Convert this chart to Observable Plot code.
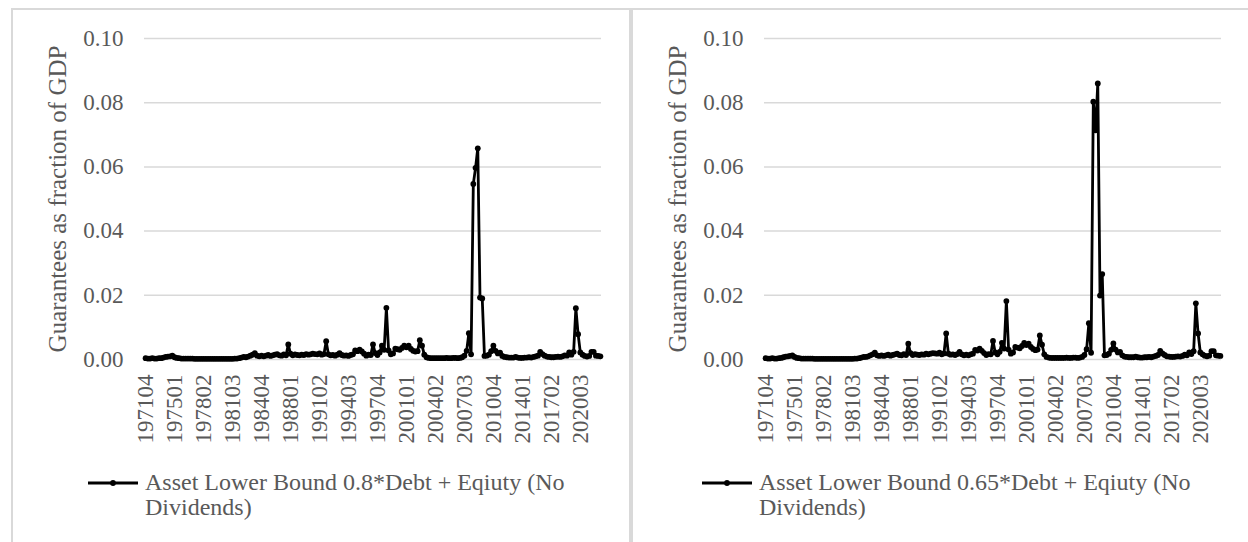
<!DOCTYPE html>
<html><head><meta charset="utf-8">
<script src="https://cdn.jsdelivr.net/npm/d3@7"></script>
<script src="https://cdn.jsdelivr.net/npm/@observablehq/plot@0.6"></script>
<style>
html,body{margin:0;padding:0;background:#fff;}
#wrap{position:relative;width:1248px;height:542px;overflow:hidden;font-family:"Liberation Serif","Times New Roman",serif;color:#595959;background:#fff;}
.panel{position:absolute;top:8px;width:620px;height:600px;box-sizing:border-box;border:2px solid #d9d9d9;background:#fff;}
.panel > svg{position:absolute;left:0;top:0;}
.leg-sym{position:absolute;}
.leg-text{position:absolute;font-size:24px;line-height:24.3px;white-space:nowrap;color:#595959;}
</style></head>
<body>
<div id="wrap">
  <div class="panel" id="pA" style="left:11px"></div>
  <div class="panel" id="pB" style="left:631px"></div>
</div>
<script>
// Quarterly categories 1971Q4 .. 2022Q4
const startYear = 1971, startQuarter = 4, nQuarters = 205;
const quarters = d3.range(nQuarters).map(i => {
  const k = i + startQuarter - 1;
  return `${startYear + Math.floor(k / 4)}0${(k % 4) + 1}`;
});

const xTickLabels = ["197104","197501","197802","198103","198404","198801","199102","199403",
  "199704","200101","200402","200703","201004","201401","201702","202003"];
const yTicks = [0, 0.02, 0.04, 0.06, 0.08, 0.10];
const yTitle = "Guarantees as fraction of GDP";

// Asset Lower Bound 0.8*Debt + Eqiuty (No Dividends)
const seriesA = [
  0.0004,
  0.0003,0.0003,0.0004,0.0003, // 1972
  0.0003,0.0004,0.0004,0.0006, // 1973
  0.0008,0.0009,0.0010,0.0012, // 1974
  0.0007,0.0005,0.0004,0.0003, // 1975
  0.0003,0.0003,0.0003,0.0003, // 1976
  0.0003,0.0002,0.0002,0.0002, // 1977
  0.0002,0.0002,0.0002,0.0002, // 1978
  0.0002,0.0002,0.0002,0.0002, // 1979
  0.0002,0.0002,0.0002,0.0002, // 1980
  0.0002,0.0002,0.0002,0.0003, // 1981
  0.0003,0.0004,0.0006,0.0008, // 1982
  0.0007,0.0009,0.0012,0.0015, // 1983
  0.0020,0.0012,0.0010,0.0012, // 1984
  0.0010,0.0012,0.0014,0.0011, // 1985
  0.0013,0.0015,0.0017,0.0013, // 1986
  0.0012,0.0016,0.0013,0.0047, // 1987
  0.0018,0.0013,0.0016,0.0014, // 1988
  0.0013,0.0015,0.0014,0.0017, // 1989
  0.0015,0.0016,0.0018,0.0017, // 1990
  0.0016,0.0019,0.0015,0.0017, // 1991
  0.0057,0.0016,0.0013,0.0014, // 1992
  0.0012,0.0015,0.0020,0.0014, // 1993
  0.0012,0.0013,0.0011,0.0014, // 1994
  0.0016,0.0028,0.0026,0.0031, // 1995
  0.0025,0.0018,0.0012,0.0015, // 1996
  0.0014,0.0047,0.0020,0.0014, // 1997
  0.0022,0.0043,0.0030,0.0161, // 1998
  0.0028,0.0016,0.0019,0.0034, // 1999
  0.0032,0.0030,0.0036,0.0043, // 2000
  0.0038,0.0043,0.0033,0.0027, // 2001
  0.0025,0.0026,0.0060,0.0043, // 2002
  0.0015,0.0007,0.0005,0.0004, // 2003
  0.0004,0.0004,0.0004,0.0004, // 2004
  0.0004,0.0004,0.0005,0.0004, // 2005
  0.0004,0.0005,0.0005,0.0004, // 2006
  0.0005,0.0007,0.0012,0.0027, // 2007
  0.0082,0.0016,0.0547,0.0597, // 2008
  0.0658,0.0193,0.0190,0.0011, // 2009
  0.0012,0.0015,0.0026,0.0043, // 2010
  0.0027,0.0019,0.0021,0.0011, // 2011
  0.0008,0.0007,0.0006,0.0006, // 2012
  0.0006,0.0008,0.0006,0.0005, // 2013
  0.0005,0.0006,0.0006,0.0007, // 2014
  0.0006,0.0008,0.0010,0.0012, // 2015
  0.0024,0.0017,0.0012,0.0009, // 2016
  0.0008,0.0007,0.0007,0.0008, // 2017
  0.0009,0.0008,0.0010,0.0013, // 2018
  0.0012,0.0022,0.0015,0.0024, // 2019
  0.0160,0.0079,0.0022,0.0015, // 2020
  0.0011,0.0009,0.0011,0.0024, // 2021
  0.0024,0.0012,0.0011,0.0010  // 2022
];

// Asset Lower Bound 0.65*Debt + Eqiuty (No Dividends)
const seriesB = [
  0.0004,
  0.0003,0.0003,0.0004,0.0003, // 1972
  0.0003,0.0004,0.0005,0.0007, // 1973
  0.0009,0.0010,0.0011,0.0013, // 1974
  0.0008,0.0005,0.0004,0.0003, // 1975
  0.0003,0.0003,0.0003,0.0003, // 1976
  0.0003,0.0002,0.0002,0.0002, // 1977
  0.0002,0.0002,0.0002,0.0002, // 1978
  0.0002,0.0002,0.0002,0.0002, // 1979
  0.0002,0.0002,0.0002,0.0002, // 1980
  0.0002,0.0002,0.0002,0.0003, // 1981
  0.0003,0.0004,0.0006,0.0008, // 1982
  0.0008,0.0010,0.0013,0.0016, // 1983
  0.0021,0.0013,0.0011,0.0013, // 1984
  0.0011,0.0013,0.0015,0.0012, // 1985
  0.0014,0.0016,0.0018,0.0014, // 1986
  0.0013,0.0017,0.0014,0.0049, // 1987
  0.0020,0.0014,0.0017,0.0015, // 1988
  0.0014,0.0016,0.0015,0.0018, // 1989
  0.0016,0.0018,0.0020,0.0019, // 1990
  0.0018,0.0021,0.0016,0.0019, // 1991
  0.0081,0.0018,0.0015,0.0016, // 1992
  0.0014,0.0017,0.0024,0.0016, // 1993
  0.0013,0.0015,0.0013,0.0016, // 1994
  0.0018,0.0030,0.0028,0.0034, // 1995
  0.0027,0.0020,0.0014,0.0017, // 1996
  0.0016,0.0058,0.0022,0.0016, // 1997
  0.0024,0.0052,0.0034,0.0182, // 1998
  0.0031,0.0018,0.0022,0.0039, // 1999
  0.0037,0.0035,0.0042,0.0052, // 2000
  0.0045,0.0049,0.0039,0.0033, // 2001
  0.0029,0.0031,0.0075,0.0046, // 2002
  0.0016,0.0008,0.0006,0.0005, // 2003
  0.0005,0.0005,0.0005,0.0005, // 2004
  0.0005,0.0005,0.0006,0.0005, // 2005
  0.0005,0.0006,0.0006,0.0005, // 2006
  0.0006,0.0008,0.0014,0.0032, // 2007
  0.0113,0.0021,0.0803,0.0714, // 2008
  0.0860,0.0199,0.0266,0.0013, // 2009
  0.0014,0.0018,0.0030,0.0050, // 2010
  0.0031,0.0022,0.0024,0.0013, // 2011
  0.0009,0.0008,0.0007,0.0007, // 2012
  0.0007,0.0009,0.0007,0.0006, // 2013
  0.0006,0.0007,0.0007,0.0008, // 2014
  0.0007,0.0009,0.0011,0.0014, // 2015
  0.0027,0.0019,0.0014,0.0010, // 2016
  0.0009,0.0008,0.0008,0.0009, // 2017
  0.0010,0.0009,0.0011,0.0015, // 2018
  0.0013,0.0022,0.0017,0.0026, // 2019
  0.0175,0.0081,0.0022,0.0016, // 2020
  0.0012,0.0010,0.0012,0.0026, // 2021
  0.0026,0.0013,0.0012,0.0011  // 2022
];

const legendA = ["Asset Lower Bound 0.8*Debt + Eqiuty (No", "Dividends)"];
const legendB = ["Asset Lower Bound 0.65*Debt + Eqiuty (No", "Dividends)"];

function makeChart(values) {
  const data = quarters.map((q, i) => ({q, v: values[i]}));
  return Plot.plot({
    width: 616,
    height: 440,
    marginLeft: 131,
    marginRight: 28,
    marginTop: 28,
    marginBottom: 91,
    style: {fontFamily: '"Liberation Serif", "Times New Roman", serif', fontSize: "23px", color: "#595959", background: "transparent", overflow: "visible"},
    x: {type: "point", domain: quarters, padding: 0.5, round: false},
    y: {domain: [0, 0.1]},
    marks: [
      Plot.gridY(yTicks, {stroke: "#d9d9d9", strokeOpacity: 1, strokeWidth: 1.5}),
      Plot.axisY(yTicks, {tickSize: 0, tickPadding: 21, tickFormat: d => d.toFixed(2), label: null, fill: "#595959", fontSize: 23}),
      Plot.axisX(xTickLabels, {tickSize: 0, tickPadding: 15, tickRotate: -90, label: null, fill: "#595959", fontSize: 23}),
      Plot.text([yTitle], {text: d => d, frameAnchor: "left", rotate: -90, dx: -79, lineAnchor: "bottom", textAnchor: "middle", fontSize: 25, fill: "#595959"}),
      Plot.line(data, {x: "q", y: "v", stroke: "#000", strokeWidth: 2.8, strokeLinejoin: "round"}),
      Plot.dot(data, {x: "q", y: "v", r: 2.9, fill: "#000", stroke: "none"})
    ]
  });
}

function makeLegend(panel, lines, symLeft, textLeft) {
  const ns = "http://www.w3.org/2000/svg";
  const sym = document.createElementNS(ns, "svg");
  sym.setAttribute("class", "leg-sym");
  sym.setAttribute("width", 52); sym.setAttribute("height", 10);
  sym.style.left = symLeft + "px"; sym.style.top = "468px";
  const ln = document.createElementNS(ns, "line");
  ln.setAttribute("x1", 0); ln.setAttribute("x2", 50); ln.setAttribute("y1", 5); ln.setAttribute("y2", 5);
  ln.setAttribute("stroke", "#000"); ln.setAttribute("stroke-width", 2.8);
  const c = document.createElementNS(ns, "circle");
  c.setAttribute("cx", 25); c.setAttribute("cy", 5); c.setAttribute("r", 2.9); c.setAttribute("fill", "#000");
  sym.appendChild(ln); sym.appendChild(c);
  panel.appendChild(sym);
  const t = document.createElement("div");
  t.className = "leg-text";
  t.style.left = textLeft + "px"; t.style.top = "460.4px";
  t.innerHTML = lines.map(s => s.replace(/&/g, "&amp;").replace(/</g, "&lt;")).join("<br>");
  panel.appendChild(t);
}

const pA = document.getElementById("pA");
const pB = document.getElementById("pB");
pA.appendChild(makeChart(seriesA));
pB.appendChild(makeChart(seriesB));
makeLegend(pA, legendA, 75, 132);
makeLegend(pB, legendB, 69, 126);
</script>
</body></html>
